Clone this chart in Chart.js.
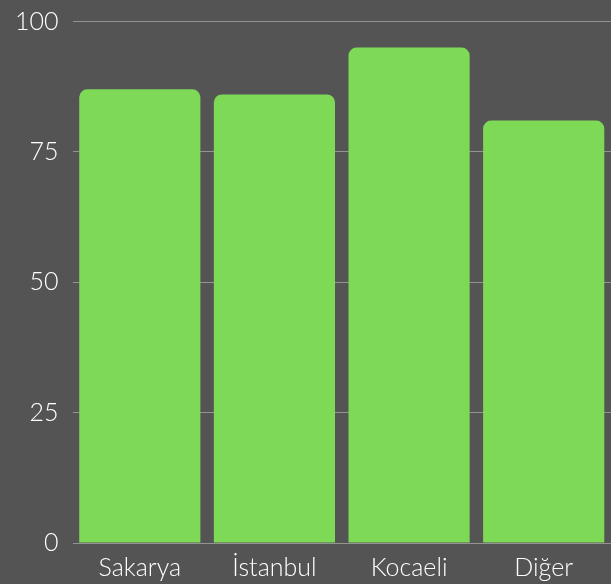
<!DOCTYPE html>
<html><head><meta charset="utf-8">
<script src="https://cdn.jsdelivr.net/npm/chart.js@4/dist/chart.umd.min.js"></script>
<style>html,body{margin:0;padding:0;background:#545454;}canvas{display:block;}</style>
</head><body>
<canvas id="c" width="611" height="584"></canvas>
<script>
const categories = ["Sakarya", "İstanbul", "Kocaeli", "Diğer"];
const values = [87, 86, 95, 81];
const yTicks = [0, 25, 50, 75, 100];

const bg = {
  id: 'bg',
  beforeDraw(chart) {
    const ctx = chart.ctx;
    ctx.save();
    ctx.fillStyle = '#545454';
    ctx.fillRect(0, 0, chart.width, chart.height);
    ctx.restore();
  }
};

new Chart(document.getElementById('c'), {
  type: 'bar',
  data: {
    labels: categories,
    datasets: [{
      data: values,
      backgroundColor: '#7ed957',
      borderRadius: {topLeft: 8, topRight: 8, bottomLeft: 0, bottomRight: 0},
      borderSkipped: 'bottom',
      barPercentage: 0.9,
      categoryPercentage: 1.0
    }]
  },
  options: {
    responsive: false,
    animation: false,
    devicePixelRatio: 1,
    layout: {padding: {top: 1, right: 0, bottom: 0, left: 1}},
    plugins: {legend: {display: false}, tooltip: {enabled: false}},
    scales: {
      x: {
        grid: {display: false},
        border: {display: false},
        ticks: {color: '#ffffff', font: {family: 'Lato', size: 25, weight: 300, lineHeight: 1.0}, padding: 4}
      },
      y: {
        min: 0, max: 100,
        afterBuildTicks(axis) { axis.ticks = yTicks.map(v => ({value: v})); },
        grid: {color: 'rgba(190,190,190,0.6)', lineWidth: 1, drawTicks: false},
        border: {display: false},
        ticks: {color: '#ffffff', font: {family: 'Lato', size: 25, weight: 300, lineHeight: 0.6}, padding: 14}
      }
    }
  },
  plugins: [bg]
});
</script>
</body></html>
